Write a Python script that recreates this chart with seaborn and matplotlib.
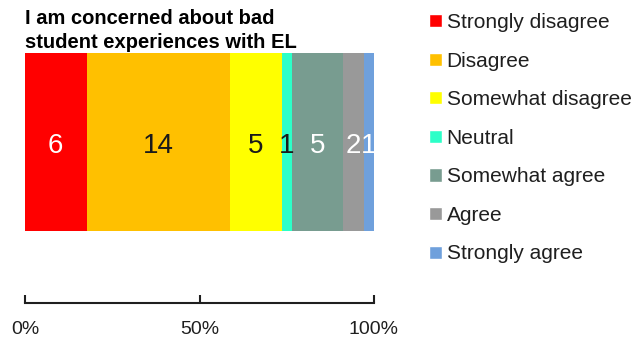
import pandas as pd
import seaborn as sns
import matplotlib.pyplot as plt
from matplotlib.patches import Patch
from matplotlib.ticker import PercentFormatter

categories = ["Strongly disagree", "Disagree", "Somewhat disagree", "Neutral",
              "Somewhat agree", "Agree", "Strongly agree"]
counts = [6, 14, 5, 1, 5, 2, 1]
colors = ["#FF0000", "#FFC000", "#FFFF00", "#2CFFC8", "#789C90", "#999999", "#6FA0DC"]
label_colors = ["white", "#1a1a1a", "#1a1a1a", "#1a1a1a", "white", "white", "white"]
question = "I am concerned about bad\nstudent experiences with EL"

sns.set_style("white")
plt.rcParams["font.family"] = ["Liberation Sans", "DejaVu Sans"]
text_col = "#1f1f1f"

df = pd.DataFrame({"response": categories, "count": counts})
df["share"] = df["count"] / df["count"].sum()
df["end"] = df["share"].cumsum()
df["mid"] = df["end"] - df["share"] / 2

fig = plt.figure(figsize=(6.35, 3.39), dpi=100)
ax = fig.add_axes([25 / 635, 36 / 339, 349 / 635, 250 / 339])

# stacked bar: draw running totals widest first so each segment shows through
for i in reversed(range(len(df))):
    sns.barplot(x=[df["end"][i]], y=["q"], color=colors[i], width=0.8,
                saturation=1, linewidth=0, orient="h", ax=ax)

for i, row in df.iterrows():
    ax.text(row["mid"], 0.02, str(row["count"]), ha="center", va="center",
            fontsize=20, color=label_colors[i])

ax.set_xlim(0, 1)
ax.set_ylim(0.7236, -0.4)
ax.set_xticks([0, 0.5, 1])
ax.xaxis.set_major_formatter(PercentFormatter(xmax=1, decimals=0))
ax.set_yticks([])
ax.set_xlabel("")
ax.set_ylabel("")
for s in ["top", "left", "right"]:
    ax.spines[s].set_visible(False)
ax.spines["bottom"].set_color(text_col)
ax.spines["bottom"].set_linewidth(1.5)
ax.tick_params(axis="x", direction="in", length=6, width=1.5, pad=13,
               labelsize=14, colors=text_col, bottom=True)

fig.text(25 / 635, 1 - 9 / 339, question, fontsize=14.5, fontweight="bold",
         color="black", ha="left", va="top", linespacing=1.35)

handles = [Patch(facecolor=c, label=l) for c, l in zip(colors, categories)]
fig.legend(handles=handles, loc="upper left", bbox_to_anchor=(429 / 635, 1 - 13 / 339),
           frameon=False, fontsize=15, handlelength=0.6, handleheight=0.6,
           handletextpad=0.25, labelspacing=0.94, borderpad=0, borderaxespad=0,
           labelcolor=text_col)

fig.savefig("out.png", dpi=100)
